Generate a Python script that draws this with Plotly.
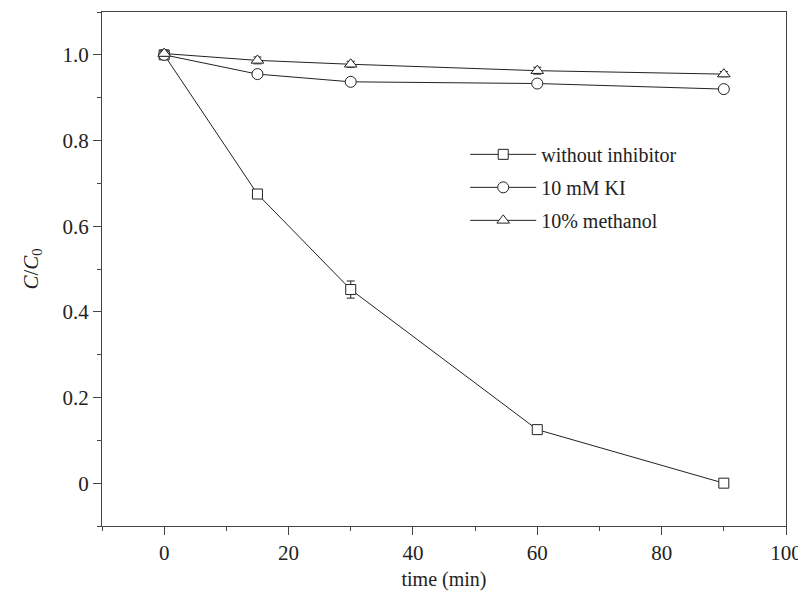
import plotly.graph_objects as go

time = [0, 15, 30, 60, 90]
without_inhibitor = [1.0, 0.675, 0.452, 0.125, 0.0]
without_err = [0.005, 0.008, 0.02, 0.008, 0.003]
ki = [1.0, 0.955, 0.937, 0.933, 0.920]
ki_err = [0.005, 0.006, 0.005, 0.008, 0.006]
methanol = [1.003, 0.987, 0.978, 0.963, 0.955]
methanol_err = [0.006, 0.008, 0.007, 0.008, 0.006]

y_ticks = [0, 0.2, 0.4, 0.6, 0.8, 1.0]
y_tick_labels = ["0", "0.2", "0.4", "0.6", "0.8", "1.0"]
x_ticks = [0, 20, 40, 60, 80, 100]

line_col = "#222222"
font_family = "Liberation Serif"

fig = go.Figure()

series = [
    ("without inhibitor", without_inhibitor, without_err, "square", 10),
    ("10 mM KI", ki, ki_err, "circle", 11),
    ("10% methanol", methanol, methanol_err, "triangle-up", 11),
]
for name, ys, errs, sym, size in series:
    fig.add_trace(go.Scatter(
        x=time, y=ys, name=name, mode="lines+markers", legendgroup=name,
        line=dict(color=line_col, width=1),
        marker=dict(symbol=sym, size=size, color="white",
                    line=dict(color=line_col, width=1)),
        error_y=dict(type="data", array=errs, visible=True,
                     color=line_col, thickness=1, width=4),
    ))

axis_common = dict(
    showline=True, linecolor="#444444", linewidth=1, mirror=True,
    ticks="outside", ticklen=8, tickwidth=1, tickcolor="#444444",
    showgrid=False, zeroline=False, automargin=False,
    tickfont=dict(family=font_family, size=21, color="#222222"),
)

fig.update_xaxes(
    range=[-10, 100], tickvals=x_ticks,
    minor=dict(ticks="outside", ticklen=4, tickcolor="#444444", dtick=10, tick0=0),
    title=dict(text="time (min)", font=dict(family=font_family, size=20, color="#222222"),
               standoff=7),
    **axis_common,
)
fig.update_yaxes(
    range=[-0.1, 1.1], tickvals=y_ticks, ticktext=y_tick_labels,
    minor=dict(ticks="outside", ticklen=4, tickcolor="#444444", dtick=0.1, tick0=0),
    title=dict(text="<i>C</i>/<i>C</i><sub>0</sub>",
               font=dict(family=font_family, size=21, color="#222222"), standoff=18),
    **axis_common,
)

fig.update_layout(
    width=798, height=583,
    margin=dict(l=94, r=20, t=4, b=65),
    plot_bgcolor="white", paper_bgcolor="white",
    showlegend=True,
    legend=dict(x=0.531, y=0.761, xanchor="left", yanchor="top",
                bgcolor="rgba(0,0,0,0)", tracegroupgap=4, itemwidth=66,
                font=dict(family=font_family, size=20, color="#222222")),
)

fig.write_html("out.html")
